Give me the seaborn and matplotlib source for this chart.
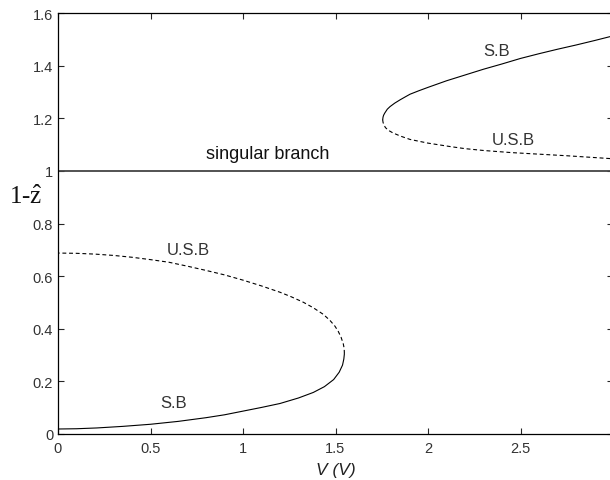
import matplotlib
matplotlib.use("Agg")
import matplotlib.pyplot as plt
import seaborn as sns
import pandas as pd

# ---- data ----
low_sb_v = [0.0, 0.10, 0.21, 0.35, 0.50, 0.65, 0.80, 0.90, 1.00, 1.10, 1.20, 1.30,
            1.38, 1.44, 1.49, 1.52, 1.538, 1.545, 1.548]
low_sb_y = [0.019, 0.020, 0.023, 0.029, 0.037, 0.048, 0.062, 0.073, 0.087, 0.101, 0.116, 0.137,
            0.158, 0.180, 0.207, 0.235, 0.262, 0.285, 0.305]

low_usb_v = [1.548, 1.547, 1.542, 1.530, 1.515, 1.497, 1.470, 1.434, 1.380, 1.326, 1.260, 1.200,
             1.100, 1.000, 0.900, 0.800, 0.700, 0.600, 0.500, 0.400, 0.300, 0.200, 0.100, 0.0]
low_usb_y = [0.305, 0.325, 0.343, 0.368, 0.390, 0.410, 0.432, 0.455, 0.480, 0.501, 0.522, 0.539,
             0.563, 0.585, 0.605, 0.622, 0.638, 0.653, 0.663, 0.672, 0.679, 0.684, 0.687, 0.688]

up_sb_v = [1.755, 1.757, 1.760, 1.766, 1.780, 1.795, 1.820, 1.850, 1.880, 1.903, 1.950, 2.000,
           2.100, 2.200, 2.300, 2.400, 2.500, 2.600, 2.700, 2.800, 2.900, 2.990]
up_sb_y = [1.195, 1.205, 1.212, 1.220, 1.235, 1.245, 1.258, 1.271, 1.283, 1.292, 1.305, 1.318,
           1.343, 1.365, 1.387, 1.407, 1.428, 1.446, 1.463, 1.479, 1.496, 1.512]

up_usb_v = [1.755, 1.757, 1.762, 1.770, 1.785, 1.810, 1.850, 1.903, 2.000, 2.119, 2.200, 2.300,
            2.450, 2.600, 2.750, 2.990]
up_usb_y = [1.195, 1.185, 1.175, 1.165, 1.155, 1.145, 1.133, 1.120, 1.106, 1.093, 1.085, 1.078,
            1.070, 1.064, 1.058, 1.047]

singular_v = [0.0, 3.0]
singular_y = [1.0, 1.0]

xtick_vals = [0, 0.5, 1, 1.5, 2, 2.5]
xtick_labels = ["0", "0.5", "1", "1.5", "2", "2.5"]
ytick_vals = [0, 0.2, 0.4, 0.6, 0.8, 1.0, 1.2, 1.4, 1.6]
ytick_labels = ["0", "0.2", "0.4", "0.6", "0.8", "1", "1.2", "1.4", "1.6"]

# ---- style ----
sns.set_style("ticks")
plt.rcParams["font.family"] = ["Liberation Sans", "DejaVu Sans"]
plt.rcParams["mathtext.fontset"] = "custom"
plt.rcParams["mathtext.rm"] = "Liberation Serif"
plt.rcParams["mathtext.it"] = "Liberation Serif:italic"

fig = plt.figure(figsize=(6.10, 4.81), dpi=100)
ax = fig.add_axes([58 / 610, 46 / 481, (613 - 58) / 610, (435 - 14.2) / 481])

def draw(v, y, ls, color="black", lw=0.8):
    df = pd.DataFrame({"V": v, "y": y})
    sns.lineplot(data=df, x="V", y="y", sort=False, estimator=None,
                 color=color, linewidth=lw, linestyle=ls, ax=ax)

draw(low_sb_v, low_sb_y, "-")
draw(low_usb_v, low_usb_y, (0, (3.5, 2.5)))
draw(up_sb_v, up_sb_y, "-")
draw(up_usb_v, up_usb_y, (0, (3.5, 2.5)))
draw(singular_v, singular_y, "-", color="#444444", lw=1.3)

ax.set_xlim(0, 3)
ax.set_ylim(0, 1.6)
ax.set_xticks(xtick_vals)
ax.set_xticklabels(xtick_labels)
ax.set_yticks(ytick_vals)
ax.set_yticklabels(ytick_labels)
ax.tick_params(direction="in", length=4, width=0.8, top=True, right=True,
               labelsize=10.5, labelcolor="#333333", pad=3.5)
ax.tick_params(axis="x", pad=5)
for s in ax.spines.values():
    s.set_visible(True)
    s.set_linewidth(0.9)
    s.set_color("black")

ax.set_xlabel("V (V)", fontsize=12.5, style="italic", color="#222222", va="center")
ax.xaxis.set_label_coords(0.5, (435 - 471) / 420.8)
ax.set_ylabel(r"1-$\hat{\mathrm{z}}$", fontsize=18, rotation=0,
              family="Liberation Serif", color="#111111", va="center", ha="center")
ax.yaxis.set_label_coords((26 - 58) / 555, (435 - 197) / 420.8)

tc = "#333333"
ax.text(2.37, 1.457, "S.B", fontsize=12, color=tc, ha="center", va="center")
ax.text(2.46, 1.12, "U.S.B", fontsize=12, color=tc, ha="center", va="center")
ax.text(1.135, 1.065, "singular branch", fontsize=13, color="#111111", ha="center", va="center")
ax.text(0.704, 0.703, "U.S.B", fontsize=12, color=tc, ha="center", va="center")
ax.text(0.623, 0.12, "S.B", fontsize=12, color=tc, ha="center", va="center")

if ax.get_legend() is not None:
    ax.get_legend().remove()

fig.savefig("out.png", dpi=100)
